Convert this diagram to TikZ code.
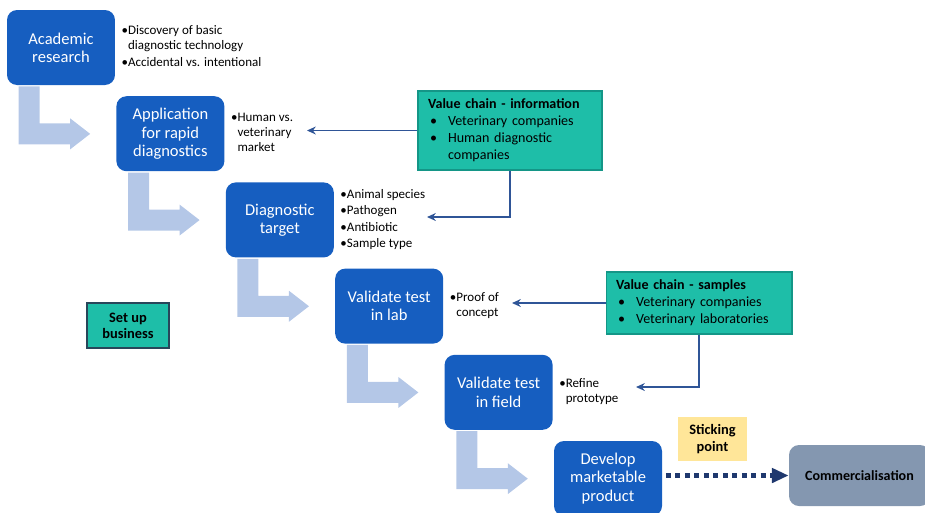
\documentclass[tikz,border=0pt]{standalone}
\usepackage{fontspec}
\setmainfont{Carlito}
\usepackage{tikz}
\usetikzlibrary{arrows.meta}
\usetikzlibrary{positioning}
\definecolor{stageblue}{RGB}{22,94,192}
\definecolor{stairblue}{RGB}{180,199,231}
\definecolor{chainteal}{RGB}{30,190,168}
\definecolor{chainedge}{RGB}{20,150,135}
\definecolor{setupedge}{RGB}{40,70,90}
\definecolor{linkblue}{RGB}{47,85,151}
\definecolor{stucknavy}{RGB}{31,56,110}
\definecolor{stickyellow}{RGB}{255,230,153}
\definecolor{commgrey}{RGB}{132,151,176}
\tikzset{stage/.style={fill=stageblue, rounded corners=0.2cm, minimum width=2.16cm,
   minimum height=1.5cm, text=white, align=center, inner sep=1pt,
   font=\fontsize{9.4}{10.4}\selectfont},
 notes/.style={inner sep=0pt, font=\fontsize{7.4}{8.5}\selectfont},
 chain/.style={fill=chainteal, draw=chainedge, line width=0.6pt, inner xsep=0.2cm,
   inner ysep=0pt, align=left, font=\fontsize{8}{9.8}\selectfont},
 tag/.style={inner sep=0pt, align=center, font=\bfseries\fontsize{8.2}{9.2}\selectfont},
 stairarrow/.style={fill=stairblue, draw=none},
 link/.style={draw=linkblue, line width=0.8pt, -{Stealth[length=5pt,width=4.5pt]}},
 stuck/.style={draw=stucknavy, line width=2.8pt, dash pattern=on 2.8pt off 2.6pt,
   -{Triangle[length=9.5pt,width=8pt]}},
 }

\begin{document}
\begin{tikzpicture}[x=0.02cm, y=-0.02cm]
    \useasboundingbox (0,0) rectangle (925,512);

    % staircase of stages
    \foreach \txt[count=\i from 0] in {Academic\\research, Application\\for rapid\\diagnostics,
        Diagnostic\\target, Validate test\\in lab, Validate test\\in field,
        Develop\\marketable\\product} {
        \node[stage] (stage\i) at ({61+109.4*\i}, {47.5+86.2*\i}) {\txt};
    }
    \foreach \i in {0,...,4} {
        \draw[stairarrow] ([shift={(12,1)}]stage\i.south west) -- ++(0,58) -- ++(51.5,0)
            -- ++(0,5) -- ++(20,-15.5) -- ++(-20,-15.5) -- ++(0,5) -- ++(-30.5,0)
            -- ++(0,-37) -- cycle;
    }

    % notes beside the stages
    \node[notes, right=0.12cm of stage0] (researchnotes) {\begin{tabular}{@{}l@{}l@{}}
        \textbullet&Discovery of basic\\&diagnostic technology\\[1.1pt]
        \textbullet&Accidental vs. intentional\end{tabular}};
    \node[notes, right=0.12cm of stage1] (marketnotes) {\begin{tabular}{@{}l@{}l@{}}
        \textbullet&Human vs.\\&veterinary\\&market\end{tabular}};
    \node[notes, right=0.12cm of stage2] (targetnotes) {\begin{tabular}{@{}l@{}l@{}}
        \textbullet&Animal species\\[0.8pt]\textbullet&Pathogen\\[0.8pt]
        \textbullet&Antibiotic\\[0.8pt]\textbullet&Sample type\end{tabular}};
    \node[notes, right=0.12cm of stage3] (labnotes) {\begin{tabular}{@{}l@{}l@{}}
        \textbullet&Proof of\\&concept\end{tabular}};
    \node[notes, right=0.12cm of stage4] (fieldnotes) {\begin{tabular}{@{}l@{}l@{}}
        \textbullet&Refine\\&prototype\end{tabular}};

    % value chains
    \node[chain, text width=3.28cm, minimum height=1.58cm] (vci) at (510,130.5)
        {\begin{tabular}{@{\hspace{0.04cm}}p{0.36cm}@{}l@{}}
        \multicolumn{2}{@{}l@{}}{\textbf{Value chain - information}}\\
        \textbullet&Veterinary companies\\
        \textbullet&Human diagnostic\\
        &companies\end{tabular}};
    \node[chain, text width=3.32cm, minimum height=1.24cm] (vcs) at (699,303)
        {\begin{tabular}{@{\hspace{0.04cm}}p{0.36cm}@{}l@{}}
        \multicolumn{2}{@{}l@{}}{\textbf{Value chain - samples}}\\
        \textbullet&Veterinary companies\\
        \textbullet&Veterinary laboratories\end{tabular}};

    \coordinate (infotip) at (307,130.5);
    \coordinate (infobend) at (427,217);
    \coordinate (sampletip) at (512,303);
    \coordinate (samplebend) at (636,387);
    \draw[link] (vci.west) -- (infotip);
    \draw[link] (vci.south) |- (infobend);
    \draw[link] (vcs.west) -- (sampletip);
    \draw[link] (vcs.south) |- (samplebend);

    % other boxes
    \node[tag, fill=chainteal, draw=setupedge, line width=0.6pt, minimum width=1.64cm,
        minimum height=0.9cm] (setup) at (128,325.5) {Set up\\business};
    \node[tag, fill=stickyellow, minimum width=1.38cm, minimum height=0.88cm]
        (sticking) at (712.5,439) {Sticking\\point};
    \node[tag, fill=commgrey, rounded corners=0.2cm, minimum width=2.82cm,
        minimum height=1.22cm, font=\bfseries\fontsize{8}{9}\selectfont]
        (comm) at (859.5,475.5) {Commercialisation};

    \draw[stuck, shorten <=2pt] (stage5.east |- comm.west) -- (comm.west);
\end{tikzpicture}
\end{document}
